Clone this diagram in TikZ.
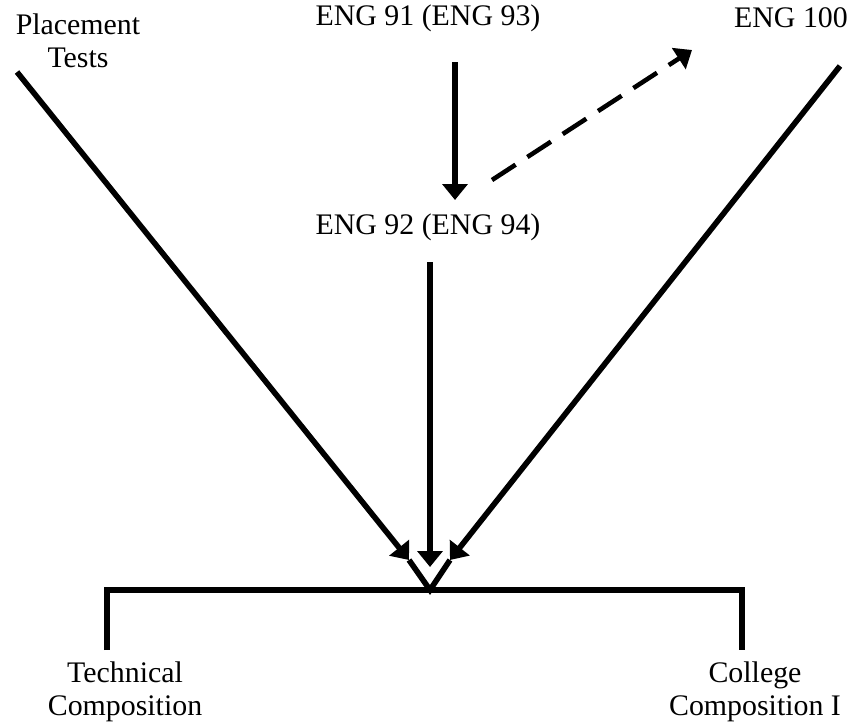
\documentclass[tikz,border=0pt]{standalone}
\usepackage{fontspec}
\setmainfont{Liberation Serif}
\usepackage{tikz}
\usetikzlibrary{arrows.meta}

\tikzset{
  label/.style={font=\fontsize{17}{18.5}\selectfont, align=center, inner sep=0pt},
  flow/.style={line width=3.2pt},
  tip/.style={-{Triangle[width=14pt,length=9pt]}},
}

\begin{document}
\begin{tikzpicture}[x=0.02cm,y=-0.02cm]
  \useasboundingbox (0,0) rectangle (849,725);
  % texts
  \node[label] (place) at (78,41) {Placement\\Tests};
  \node[label] (eng91) at (428,18) {ENG 91 (ENG 93)};
  \node[label] (eng92) at (428,227) {ENG 92 (ENG 94)};
  \node[label] (eng100) at (791,18) {ENG 100};
  \node[label] (tech) at (125,692) {Technical\\Composition};
  \node[label] (coll) at (755,692) {College\\Composition I};
  % ends of the lines
  \coordinate (lstart) at (17,72);
  \coordinate (rstart) at (840,66);
  \coordinate (ltip) at (409,560);
  \coordinate (rtip) at (450,560);
  \coordinate (mstart) at (430,262);
  \coordinate (mtip) at (430,567);
  \coordinate (junc) at (430,590);
  \coordinate (top91) at (455,62);
  \coordinate (tip92) at (455,200);
  \coordinate (dstart) at (492,180);
  \coordinate (dtip) at (692,50);
  % arrows
  \draw[flow,tip] (top91) -- (tip92);
  \draw[flow,tip,dash pattern=on 16pt off 8pt,line width=2.6pt] (dstart) -- (dtip);
  \draw[flow,tip] (lstart) -- (ltip);
  \draw[flow,tip] (rstart) -- (rtip);
  \draw[flow,tip] (mstart) -- (mtip);
  \draw[flow] (ltip) -- (junc) -- (rtip);
  % bar
  \draw[flow] (107,650) -- (107,590) -- (742,590) -- (742,650);
\end{tikzpicture}
\end{document}
